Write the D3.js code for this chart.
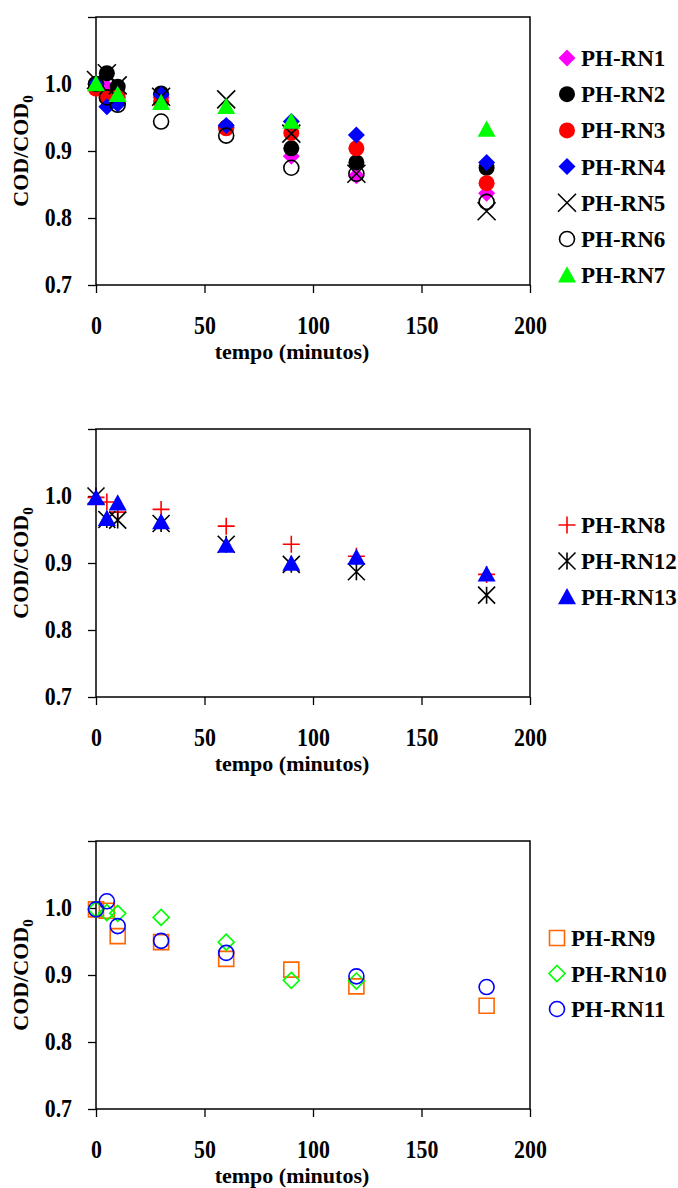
<!DOCTYPE html>
<meta charset="utf-8">
<title>COD/COD0 x tempo</title>
<style>

body {
  margin: 0;
  background: #fff;
}

text {
  font-family: "Liberation Serif", "Times New Roman", serif;
  font-weight: bold;
  fill: #000;
}

</style>
<body>
  <script src="https://d3js.org/d3.v7.min.js"></script>
  <script>

  const width = 678;
  const height = 1188;

  // tempo (minutos) and axis ticks
  const times = [0, 5, 10, 30, 60, 90, 120, 180];
  const xTicks = [0, 50, 100, 150, 200];
  const yTicks = [0.7, 0.8, 0.9, 1.0, 1.1];
  const yTickLabels = ["0.7", "0.8", "0.9", "1.0", ""];

  // COD/COD0, panel 1
  const rn1 = [1.0, 0.995, 0.985, 0.98, 0.935, 0.892, 0.863, 0.837];
  const rn2 = [1.0, 1.016, 0.996, 0.986, 0.935, 0.904, 0.883, 0.875];
  const rn3 = [0.993, 0.98, 0.98, 0.974, 0.934, 0.927, 0.904, 0.852];
  const rn4 = [1.0, 0.966, 0.97, 0.984, 0.938, 0.944, 0.924, 0.883];
  const rn5 = [1.006, 1.016, 0.998, 0.981, 0.977, 0.926, 0.866, 0.81];
  const rn6 = [1.0, 0.98, 0.969, 0.944, 0.923, 0.875, 0.866, 0.824];
  const rn7 = [1.0, null, 0.984, 0.972, 0.966, 0.944, null, 0.932];
  // panel 2
  const rn8 = [0.998, 0.991, 0.976, 0.98, 0.955, 0.928, 0.91, 0.883];
  const rn12 = [1.0, 0.965, 0.964, 0.959, 0.928, 0.898, 0.887, 0.852];
  const rn13 = [0.997, 0.966, 0.989, 0.961, 0.926, 0.899, 0.908, 0.883];
  // panel 3
  const rn9 = [0.998, 0.996, 0.958, 0.949, 0.924, 0.908, 0.883, 0.854];
  const rn10 = [0.998, 0.993, 0.992, 0.986, 0.949, 0.892, 0.891, null];
  const rn11 = [0.998, 1.01, 0.973, 0.951, 0.933, null, 0.898, 0.882];

  const panels = [
    { top: 17, legendX: 567, legendY: 58, legendStep: 36.2, series: [
      { name: "PH-RN1", values: rn1, shape: "diamond", color: "#ff00ff", style: "fill", s: 8.5 },
      { name: "PH-RN2", values: rn2, shape: "circle", color: "#000", style: "fill", s: 8 },
      { name: "PH-RN3", values: rn3, shape: "circle", color: "#ff0000", style: "fill", s: 8 },
      { name: "PH-RN4", values: rn4, shape: "diamond", color: "#0000ff", style: "fill", s: 8.5 },
      { name: "PH-RN5", values: rn5, shape: "x", color: "#000", style: "line", s: 9 },
      { name: "PH-RN6", values: rn6, shape: "circle", color: "#000", style: "open", s: 7.5 },
      { name: "PH-RN7", values: rn7, shape: "triangle", color: "#00ff00", style: "fill", s: 9 }
    ]},
    { top: 429, legendX: 567, legendY: 525, legendStep: 36, series: [
      { name: "PH-RN8", values: rn8, shape: "plus", color: "#ff0000", style: "line", s: 8.5 },
      { name: "PH-RN12", values: rn12, shape: "asterisk", color: "#000", style: "line", s: 8.5 },
      { name: "PH-RN13", values: rn13, shape: "triangle", color: "#0000ff", style: "fill", s: 9 }
    ]},
    { top: 841, legendX: 557, legendY: 938, legendStep: 35.5, series: [
      { name: "PH-RN9", values: rn9, shape: "square", color: "#ff6600", style: "open", s: 7.5 },
      { name: "PH-RN10", values: rn10, shape: "diamond", color: "#00ff00", style: "open", s: 8 },
      { name: "PH-RN11", values: rn11, shape: "circle", color: "#0000ff", style: "open", s: 7.5 }
    ]}
  ];

  const left = 96, right = 530, plotH = 268;
  const sx = 0.95, sy = 1.08; // tick labels are drawn a little narrow and tall

  const markerPath = (shape, s) => {
    const p = d3.path();
    if (shape === "circle") {
      p.moveTo(s, 0);
      p.arc(0, 0, s, 0, 2 * Math.PI);
    } else if (shape === "diamond") {
      p.moveTo(0, -s); p.lineTo(s, 0); p.lineTo(0, s); p.lineTo(-s, 0); p.closePath();
    } else if (shape === "square") {
      p.rect(-s, -s, 2 * s, 2 * s);
    } else if (shape === "triangle") {
      p.moveTo(0, -s); p.lineTo(s, 0.8 * s); p.lineTo(-s, 0.8 * s); p.closePath();
    } else if (shape === "plus") {
      p.moveTo(-s, 0); p.lineTo(s, 0); p.moveTo(0, -s); p.lineTo(0, s);
    } else {
      p.moveTo(-s, -s); p.lineTo(s, s); p.moveTo(-s, s); p.lineTo(s, -s);
      if (shape === "asterisk") { p.moveTo(0, -s); p.lineTo(0, s); }
    }
    return p.toString();
  };

  const styleMarker = (sel, d) => {
    sel.attr("d", markerPath(d.shape, d.s))
      .attr("fill", d.style === "fill" ? d.color : "none")
      .attr("stroke", d.style === "fill" ? "none" : d.color)
      .attr("stroke-width", 1.6);
  };

  const svg = d3.select("body").append("svg")
      .attr("width", width)
      .attr("height", height);

  const x = d3.scaleLinear().domain([0, 200]).range([left, right]);

  panels.forEach(panel => {
    const bottom = panel.top + plotH;
    const y = d3.scaleLinear().domain([0.7, 1.1]).range([bottom, panel.top]);
    const g = svg.append("g");

    // x axis
    const gx = g.append("g")
        .attr("transform", "translate(0," + bottom + ")")
        .call(d3.axisBottom(x).tickValues(xTicks).tickSize(8).tickPadding(23).tickSizeOuter(0));
    gx.select(".domain").remove();
    gx.attr("font-size", 23);
    gx.selectAll("line").attr("stroke", "#000").attr("stroke-width", 1.3);
    gx.selectAll("text")
        .attr("y", 31 / sy)
        .attr("transform", "scale(" + sx + "," + sy + ")");

    // y axis
    const gy = g.append("g")
        .attr("transform", "translate(" + left + ",0)")
        .call(d3.axisLeft(y).tickValues(yTicks).tickSize(8).tickPadding(16).tickSizeOuter(0)
          .tickFormat((d, i) => yTickLabels[i]));
    gy.select(".domain").remove();
    gy.attr("font-size", 23);
    gy.selectAll("line").attr("stroke", "#000").attr("stroke-width", 1.3);
    gy.selectAll(".tick").each(function (d) {
      d3.select(this).select("text")
          .attr("x", -24 / sx)
          .attr("transform", "scale(" + sx + "," + sy + ")");
    });

    // frame
    g.append("rect")
        .attr("x", left)
        .attr("y", panel.top)
        .attr("width", right - left)
        .attr("height", plotH)
        .attr("fill", "none")
        .attr("stroke", "#000")
        .attr("stroke-width", 1.5);

    // axis titles
    g.append("text")
        .attr("x", 292)
        .attr("y", bottom + 74)
        .attr("text-anchor", "middle")
        .attr("font-size", 22)
        .text("tempo (minutos)");

    const yt = g.append("text")
        .attr("transform", "translate(28," + (panel.top + plotH / 2) + ")rotate(-90)")
        .attr("text-anchor", "middle")
        .attr("font-size", 22);
    yt.append("tspan").text("COD/COD");
    yt.append("tspan").attr("font-size", 15).attr("dy", 5).text("0");

    // markers
    panel.series.forEach(s => {
      g.append("g").selectAll("path")
        .data(times.map((t, i) => [t, s.values[i]]).filter(d => d[1] != null))
        .enter().append("path")
          .attr("transform", d => "translate(" + x(d[0]) + "," + y(d[1]) + ")")
          .each(function () { styleMarker(d3.select(this), s); });
    });

    // legend
    const lg = g.append("g").selectAll("g")
        .data(panel.series)
      .enter().append("g")
        .attr("transform", (d, i) => "translate(" + panel.legendX + "," + (panel.legendY + i * panel.legendStep) + ")");
    lg.append("path").each(function (d) { styleMarker(d3.select(this), d); });
    lg.append("text")
        .attr("x", 14)
        .attr("dy", "0.35em")
        .attr("font-size", 23)
        .text(d => d.name);
  });

  </script>
</body>
